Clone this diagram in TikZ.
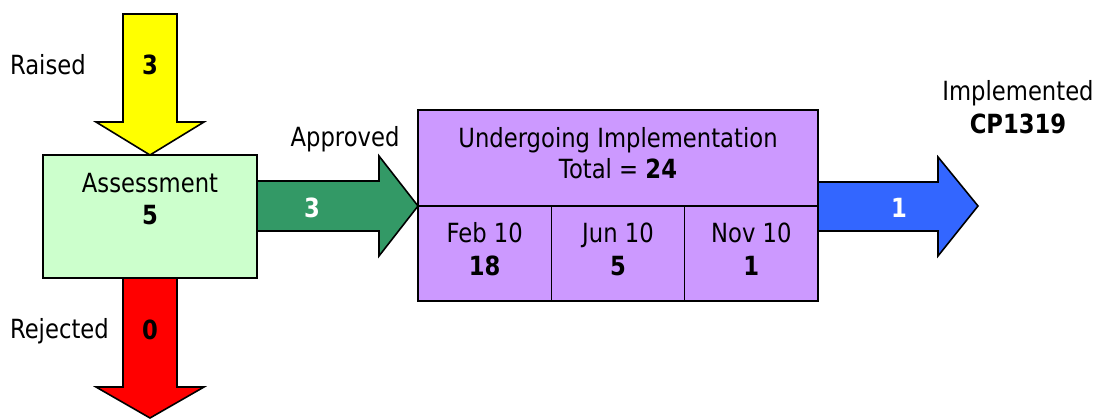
\documentclass[tikz,border=0pt]{standalone}
\usepackage{fontspec}
\setmainfont[FakeStretch=0.86]{DejaVu Sans}
\usepackage{tikz}
\usetikzlibrary{calc,positioning}
\definecolor{raisedyellow}{HTML}{FFFF00}
\definecolor{rejectred}{HTML}{FF0000}
\definecolor{assessgreen}{HTML}{CCFFCC}
\definecolor{approvegreen}{HTML}{339966}
\definecolor{implpurple}{HTML}{CC99FF}
\definecolor{doneblue}{HTML}{3366FF}

\begin{document}
\begin{tikzpicture}[x=1pt,y=-1pt,
  every node/.style={font=\fontsize{26.4}{31}\selectfont, inner sep=0pt, outer sep=0pt},
  box/.style={draw=black, line width=1.6pt},
  cellbox/.style={box, fill=implpurple, minimum width=133.33pt, minimum height=95pt, anchor=north west},
  blockarrow/.style={draw=black, line width=1.6pt, line join=miter},
  lbl/.style={anchor=base},
  num/.style={anchor=base, font=\fontsize{26.4}{31}\selectfont\bfseries}]
\useasboundingbox (0,0) rectangle (1099,419);

\node[box, fill=assessgreen, minimum width=214pt, minimum height=123pt] (assess) at (150,216.5) {};
\node[box, fill=implpurple, minimum width=400pt, minimum height=96pt] (impl) at (618,158) {};
\node[cellbox] (feb) at (impl.south west) {};
\node[cellbox] (jun) at (feb.north east) {};
\node[cellbox] (nov) at (jun.north east) {};

\coordinate (raisedin) at (150,14);
\coordinate (rejectout) at (150,418);
\coordinate (implout) at (978,206);
\coordinate (approvein) at (assess.east |- impl.south west);

\draw[blockarrow, fill=raisedyellow] ($(raisedin)+(-27,0)$) -- ($(raisedin)+(27,0)$)
  -- ($(assess.north)+(27,-33)$) -- ($(assess.north)+(54,-33)$) -- (assess.north)
  -- ($(assess.north)+(-54,-33)$) -- ($(assess.north)+(-27,-33)$) -- cycle;
\draw[blockarrow, fill=rejectred] ($(assess.south)+(-27,0)$) -- ($(assess.south)+(27,0)$)
  -- ($(rejectout)+(27,-31)$) -- ($(rejectout)+(54,-31)$) -- (rejectout)
  -- ($(rejectout)+(-54,-31)$) -- ($(rejectout)+(-27,-31)$) -- cycle;
\draw[blockarrow, fill=approvegreen] ($(approvein)+(0,-25)$) -- ($(impl.south west)+(-39,-25)$)
  -- ($(impl.south west)+(-39,-50)$) -- (impl.south west) -- ($(impl.south west)+(-39,50)$)
  -- ($(impl.south west)+(-39,25)$) -- ($(approvein)+(0,25)$) -- cycle;
\draw[blockarrow, fill=doneblue] ($(impl.south east)+(0,-24)$) -- ($(implout)+(-40,-24)$)
  -- ($(implout)+(-40,-49)$) -- (implout) -- ($(implout)+(-40,50)$)
  -- ($(implout)+(-40,25)$) -- ($(impl.south east)+(0,25)$) -- cycle;

\node[anchor=base west] (raisedlbl) at (10,75) {Raised};
\node[num] (raisednum) at (raisedin |- 0,75) {3};
\node[anchor=base west] (rejectlbl) at (10,338) {Rejected};
\node[num] (rejectnum) at (rejectout |- 0,339) {0};
\node[lbl] (assesslbl) at ($(assess.north)+(0,38)$) {Assessment};
\node[num] (assessnum) at ($(assess.north)+(0,70)$) {5};
\node[lbl] (approvelbl) at (345,147) {Approved};
\node[num, text=white] (approvenum) at (312,218) {3};
\node[lbl] (impllbl) at ($(impl.north)+(0,38)$) {Undergoing Implementation};
\node[lbl] (impltotal) at ($(impl.north)+(0,69)$) {Total = \textbf{24}};
\node[lbl] (feblbl) at ($(feb.north)+(0,37)$) {Feb 10};
\node[num] (febnum) at ($(feb.north)+(0,70)$) {18};
\node[lbl] (junlbl) at ($(jun.north)+(0,37)$) {Jun 10};
\node[num] (junnum) at ($(jun.north)+(0,70)$) {5};
\node[lbl] (novlbl) at ($(nov.north)+(0,37)$) {Nov 10};
\node[num] (novnum) at ($(nov.north)+(0,70)$) {1};
\node[num, text=white] (donenum) at (899,218) {1};
\node[lbl] (donelbl) at (1018,101) {Implemented};
\node[num] (donecp) at (1018,134) {CP1319};
\end{tikzpicture}
\end{document}
